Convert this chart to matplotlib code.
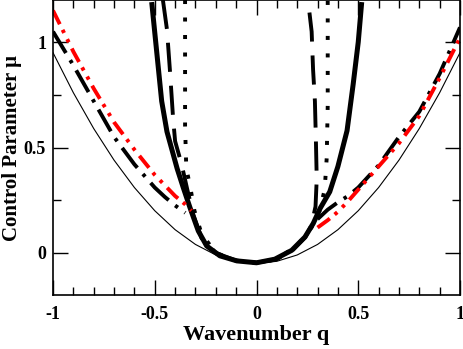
import numpy as np
import matplotlib
matplotlib.use("Agg")
import matplotlib.pyplot as plt
from matplotlib.ticker import MultipleLocator

plt.rcParams['font.family'] = ['Liberation Serif', 'DejaVu Serif']
plt.rcParams['font.weight'] = 'bold'
plt.rcParams['lines.scale_dashes'] = False

# thin neutral curve
q_thin = [-1.0, -0.9, -0.8, -0.7, -0.6, -0.5, -0.4, -0.3, -0.2, -0.1, 0.0,
          0.1, 0.2, 0.3, 0.4, 0.5, 0.6, 0.7, 0.8, 0.9, 1.0]
mu_thin = [0.95, 0.76, 0.59, 0.44, 0.31, 0.20, 0.11, 0.04, -0.01, -0.04, -0.05,
           -0.04, -0.01, 0.04, 0.11, 0.20, 0.31, 0.44, 0.59, 0.76, 0.95]

# thick solid curve
q_thick = [-0.515, -0.49, -0.466, -0.44, -0.39, -0.36, -0.327, -0.286, -0.245, -0.18,
           -0.097, 0.0, 0.09, 0.173, 0.238, 0.279, 0.312, 0.36, 0.40, 0.445, 0.475, 0.50, 0.517]
mu_thick = [1.19, 0.95, 0.72, 0.575, 0.40, 0.31, 0.215, 0.104, 0.033, -0.014,
            -0.038, -0.047, -0.03, 0.012, 0.075, 0.14, 0.21, 0.29, 0.41, 0.58, 0.8, 1.0, 1.19]

# dashed curve
q_dash = [-0.46, -0.44, -0.425, -0.41, -0.40, -0.368, -0.34, -0.31, -0.27, -0.2, -0.1, 0.0,
          0.1, 0.18, 0.24, 0.27, 0.29, 0.296, 0.292, 0.287, 0.278, 0.271, 0.253]
mu_dash = [1.2, 1.06, 0.86, 0.64, 0.53, 0.42, 0.30, 0.18, 0.07, 0.0, -0.037, -0.047,
           -0.03, 0.015, 0.075, 0.13, 0.22, 0.35, 0.53, 0.72, 0.87, 1.05, 1.2]

# dotted curve
q_dot = [-0.351, -0.351, -0.345, -0.327, -0.305, -0.27, -0.2, -0.1, 0.0,
         0.1, 0.2, 0.27, 0.31, 0.335, 0.345, 0.35, 0.35]
mu_dot = [1.2, 0.6, 0.4, 0.32, 0.2, 0.09, 0.0, -0.037, -0.047,
          -0.03, 0.035, 0.12, 0.2, 0.30, 0.45, 0.7, 1.2]

# black dash-dot branches
q_dd_left = [-1.0, -0.9, -0.8, -0.7, -0.6, -0.5, -0.45, -0.4, -0.35]
mu_dd_left = [1.05, 0.89, 0.72, 0.55, 0.42, 0.31, 0.265, 0.225, 0.19]
q_dd_right = [0.30, 0.35, 0.40, 0.45, 0.50, 0.60, 0.70, 0.80, 0.90, 1.00]
mu_dd_right = [0.16, 0.205, 0.24, 0.27, 0.31, 0.415, 0.55, 0.67, 0.85, 1.07]

# red dash-dot-dot branches
q_red_left = [-1.0, -0.9, -0.8, -0.7, -0.6, -0.5, -0.45, -0.4, -0.35, -0.32]
mu_red_left = [1.15, 0.955, 0.78, 0.62, 0.49, 0.37, 0.32, 0.27, 0.23, 0.2]
q_red_right = [0.30, 0.35, 0.40, 0.45, 0.50, 0.60, 0.70, 0.80, 0.90, 1.00]
mu_red_right = [0.12, 0.155, 0.195, 0.245, 0.30, 0.41, 0.52, 0.65, 0.83, 1.02]

fig = plt.figure(figsize=(4.63, 3.49), dpi=100)
ax = fig.add_axes([0.1145, 0.1547, 0.879, 0.8453])

ax.plot(q_thin, mu_thin, color='black', lw=0.8)
ax.plot(q_thick, mu_thick, color='black', lw=3.6, solid_capstyle='butt', solid_joinstyle='round')
ax.plot(q_dash, mu_dash, color='black', lw=2.8, dashes=(21, 10), dash_capstyle='butt')
ax.plot(q_dot, mu_dot, color='black', lw=2.8, dashes=(2.9, 9.7), dash_capstyle='butt')
for qq, mm in [(q_dd_left, mu_dd_left), (q_dd_right, mu_dd_right)]:
    ax.plot(qq, mm, color='black', lw=2.8, dashes=(18, 6, 2.5, 6), dash_capstyle='butt')
for qq, mm in [(q_red_left, mu_red_left), (q_red_right, mu_red_right)]:
    ax.plot(qq, mm, color='#ff0000', lw=2.8, dashes=(11, 4.5, 2.5, 5, 2.5, 5), dash_capstyle='butt')

ax.set_xlim(-1, 1)
ax.set_ylim(-0.2, 1.2)
ax.xaxis.set_minor_locator(MultipleLocator(0.1))
ax.yaxis.set_minor_locator(MultipleLocator(0.25))
ax.set_xticks([-1, -0.5, 0, 0.5, 1])
ax.set_xticklabels(['-1', '-0.5', '0', '0.5', '1'])
ax.set_yticks([0, 0.5, 1])
ax.set_yticklabels(['0', '0.5', '1'])
ax.tick_params(which='both', direction='in', top=True, right=True, labelsize=13, width=1)
ax.tick_params(which='major', length=11, pad=5)
ax.tick_params(axis='x', which='major', pad=8)
ax.tick_params(which='minor', length=6)
for s in ax.spines.values():
    s.set_linewidth(1.2)

ax.set_xlabel('Wavenumber q', fontsize=16, fontweight='bold', labelpad=1)
ax.set_ylabel('Control Parameter \u03bc', fontsize=15, fontweight='bold', labelpad=1)

fig.savefig('out.png', dpi=100)
